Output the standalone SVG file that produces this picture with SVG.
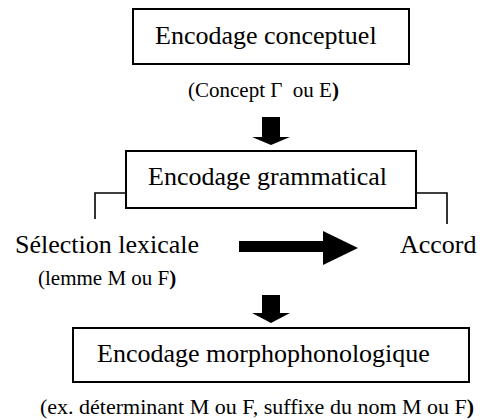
<svg xmlns="http://www.w3.org/2000/svg" width="483" height="420" viewBox="0 0 483 420">
<style>
  .box { fill: #fff; stroke: #000; stroke-width: 2; }
  .b { font-weight: bold; }
  .line { fill: none; stroke: #000; stroke-width: 1.6; }
  .arrow { fill: #000; stroke: none; }
</style>
<rect width="483" height="420" fill="#fff"/>
<g id="connectors">
  <polygon class="arrow" points="262,117 280,117 280,137 290,137 271,145 252,137 262,137"/>
  <polyline class="line" points="126,193 95,193 95,219"/>
  <polyline class="line" points="416,193 447,193 447,224"/>
  <polygon class="arrow" points="239,241 323,241 323,231 358,248 323,265 323,252 239,252"/>
  <polygon class="arrow" points="262,295 280,295 280,313 290,313 271,323 252,313 262,313"/>
</g>
<g font-family="Liberation Serif, Times New Roman, DejaVu Serif, serif" fill="#000">
<g id="encodage-conceptuel">
  <rect class="box" x="133" y="9" width="276" height="55"/>
  <text font-size="26" x="155" y="44">Encodage conceptuel</text>
</g>
<g id="concept-label">
  <text font-size="21" x="188" y="97" xml:space="preserve">(Concept Γ  ou E<tspan class="b">)</tspan></text>
</g>
<g id="encodage-grammatical">
  <rect class="box" x="126" y="151" width="290" height="57"/>
  <text font-size="26" x="148" y="185">Encodage grammatical</text>
</g>
<g id="selection-lexicale">
  <text font-size="26" x="15" y="253">Sélection lexicale</text>
  <text font-size="21" x="38" y="285">(lemme M ou F<tspan class="b">)</tspan></text>
</g>
<g id="accord">
  <text font-size="26" x="400" y="253">Accord</text>
</g>
<g id="encodage-morphophonologique">
  <rect class="box" x="73" y="328" width="396" height="54"/>
  <text font-size="26" x="97" y="362">Encodage morphophonologique</text>
</g>
<g id="morpho-label">
  <text font-size="22" x="40" y="414">(ex. déterminant M ou F, suffixe du nom M ou F<tspan class="b">)</tspan></text>
</g>
</g>
</svg>
